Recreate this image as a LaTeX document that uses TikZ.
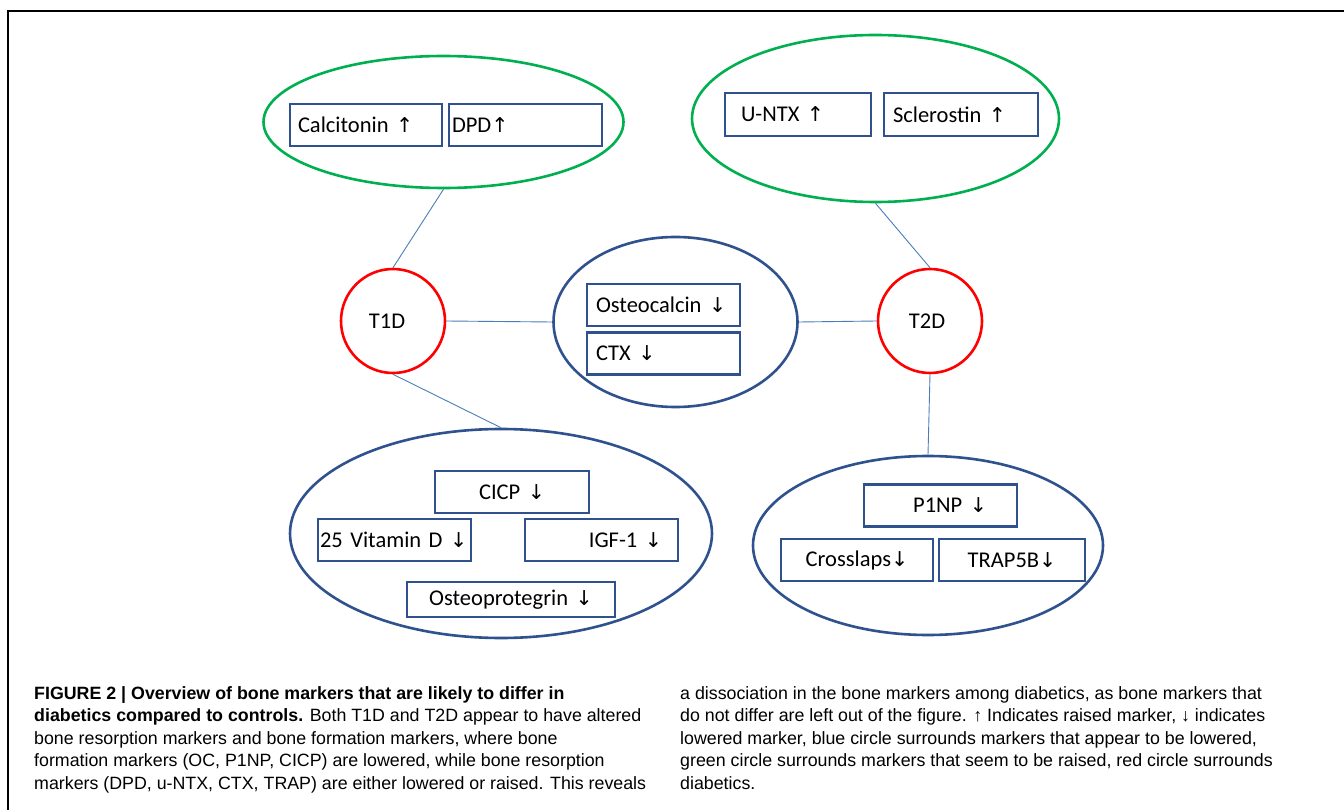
\documentclass[tikz,border=0pt]{standalone}
\usepackage{fontspec}
\setmainfont{Liberation Sans}
\newfontfamily\calfont{Carlito}
\newfontfamily\arrfont{DejaVu Sans}
\usetikzlibrary{shapes.geometric}
\definecolor{mGreen}{HTML}{00B050}
\definecolor{mRed}{HTML}{FF0000}
\definecolor{mBlue}{HTML}{2F528F}
\definecolor{mLine}{HTML}{4A7EBB}
\newcommand{\arrup}{{\arrfont\fontsize{20.5}{24}\selectfont ↑}}
\newcommand{\arrdn}{{\arrfont\fontsize{20.5}{24}\selectfont ↓}}

\begin{document}
\begin{tikzpicture}[x=1pt, y=-1pt,
    grp/.style={draw, shape=ellipse, line width=2.6pt, inner sep=0pt},
    dia/.style={draw=mRed, shape=circle, line width=2.6pt, inner sep=0pt, minimum size=104pt, font=\calfont\fontsize{22.5}{26}\selectfont},
    marker/.style={draw=mBlue, line width=2.4pt, minimum height=42pt, inner ysep=0pt, fill=white, font=\calfont\fontsize{22.5}{26}\selectfont},
    link/.style={draw=mLine, line width=0.9pt},
    captext/.style={anchor=base west, inner sep=0pt, font=\fontsize{17.8}{22}\selectfont}]
    \useasboundingbox (0,0) rectangle (1344,810);
    \fill[white] (0,0) rectangle (1344,810);
    % Frame
    \draw[line width=1.6pt] (8,810) -- (8,11) -- (1344,11);
    % Raised markers (green)
    \node[grp, draw=mGreen, minimum width=360pt, minimum height=132pt] (up1) at (443.5,122) {};
    \node[grp, draw=mGreen, minimum width=367pt, minimum height=167pt] (up2) at (875.5,118.5) {};
    % Lowered markers (blue)
    \node[grp, draw=mBlue, minimum width=244pt, minimum height=170pt] (both) at (675.5,322) {};
    \node[grp, draw=mBlue, minimum width=422pt, minimum height=209pt] (low1) at (501,533.5) {};
    \node[grp, draw=mBlue, minimum width=350pt, minimum height=179pt] (low2) at (928,545.5) {};
    % Diabetics (red)
    \node[dia] (t1d) at (393,321) {\hspace*{-12pt}T1D};
    \node[dia] (t2d) at (930,321) {\hspace*{-6pt}T2D};
    % Links
    \draw[link] (up1.south) -- (t1d.north);
    \draw[link] (up2.south) -- (t2d.north);
    \draw[link] (t1d.east) -- (both.west);
    \draw[link] (both.east) -- (t2d.west);
    \draw[link] (t1d.south) -- (low1.north);
    \draw[link] (t2d.south) -- (low2.north);
    % Marker boxes
    \node[marker, inner xsep=8pt, text width=136pt, align=left] (calc) at (366,125) {Calcitonin \arrup};
    \node[marker, inner xsep=3pt, text width=147pt, align=left] (dpd) at (525.5,125) {DPD\arrup};
    \node[marker, inner xsep=16pt, text width=114pt, align=left, minimum height=43pt] (untx) at (798,114.5) {U-NTX \arrup};
    \node[marker, inner xsep=9pt, text width=136pt, align=left, minimum height=43pt] (scl) at (961,114.5) {Sclerostin \arrup};
    \node[marker, inner xsep=9pt, text width=135pt, align=left] (oc) at (663.5,305) {Osteocalcin \arrdn};
    \node[marker, inner xsep=9pt, text width=135pt, align=left] (ctx) at (663.5,353.5) {CTX \arrdn};
    \node[marker, inner xsep=6pt, text width=142pt, align=center] (cicp) at (512,492) {CICP \arrdn};
    \node[marker, inner xsep=2pt, text width=149pt, align=left] (vitd) at (394.5,540) {25 Vitamin D \arrdn};
    \node[marker, inner xsep=16pt, text width=121pt, align=right] (igf) at (601.5,540) {IGF-1 \arrdn};
    \node[marker, inner xsep=6pt, text width=196pt, align=center, minimum height=35pt] (opg) at (511,599.5) {Osteoprotegrin \arrdn};
    \node[marker, inner xsep=30pt, text width=93pt, align=right] (p1np) at (940.5,505.5) {P1NP \arrdn};
    \node[marker, inner xsep=6pt, text width=140pt, align=center] (cross) at (857,560) {Crosslaps\arrdn};
    \node[marker, inner xsep=6pt, text width=134pt, align=center] (trap) at (1012,560) {TRAP5B\arrdn};
    % Caption, left column
    \node[captext] (c1) at (34,699) {\textbf{FIGURE 2 | Overview of bone markers that are likely to differ in}};
    \node[captext] (c2) at (34,721.5) {\textbf{diabetics compared to controls.} Both T1D and T2D appear to have altered};
    \node[captext] (c3) at (34,744) {bone resorption markers and bone formation markers, where bone};
    \node[captext] (c4) at (34,766.5) {formation markers (OC, P1NP, CICP) are lowered, while bone resorption};
    \node[captext] (c5) at (34,789) {markers (DPD, u-NTX, CTX, TRAP) are either lowered or raised. This reveals};
    % Caption, right column
    \node[captext] (c6) at (680,699) {a dissociation in the bone markers among diabetics, as bone markers that};
    \node[captext] (c7) at (680,721.5) {do not differ are left out of the figure. ↑ Indicates raised marker, ↓ indicates};
    \node[captext] (c8) at (680,744) {lowered marker, blue circle surrounds markers that appear to be lowered,};
    \node[captext] (c9) at (680,766.5) {green circle surrounds markers that seem to be raised, red circle surrounds};
    \node[captext] (c10) at (680,789) {diabetics.};
\end{tikzpicture}
\end{document}
